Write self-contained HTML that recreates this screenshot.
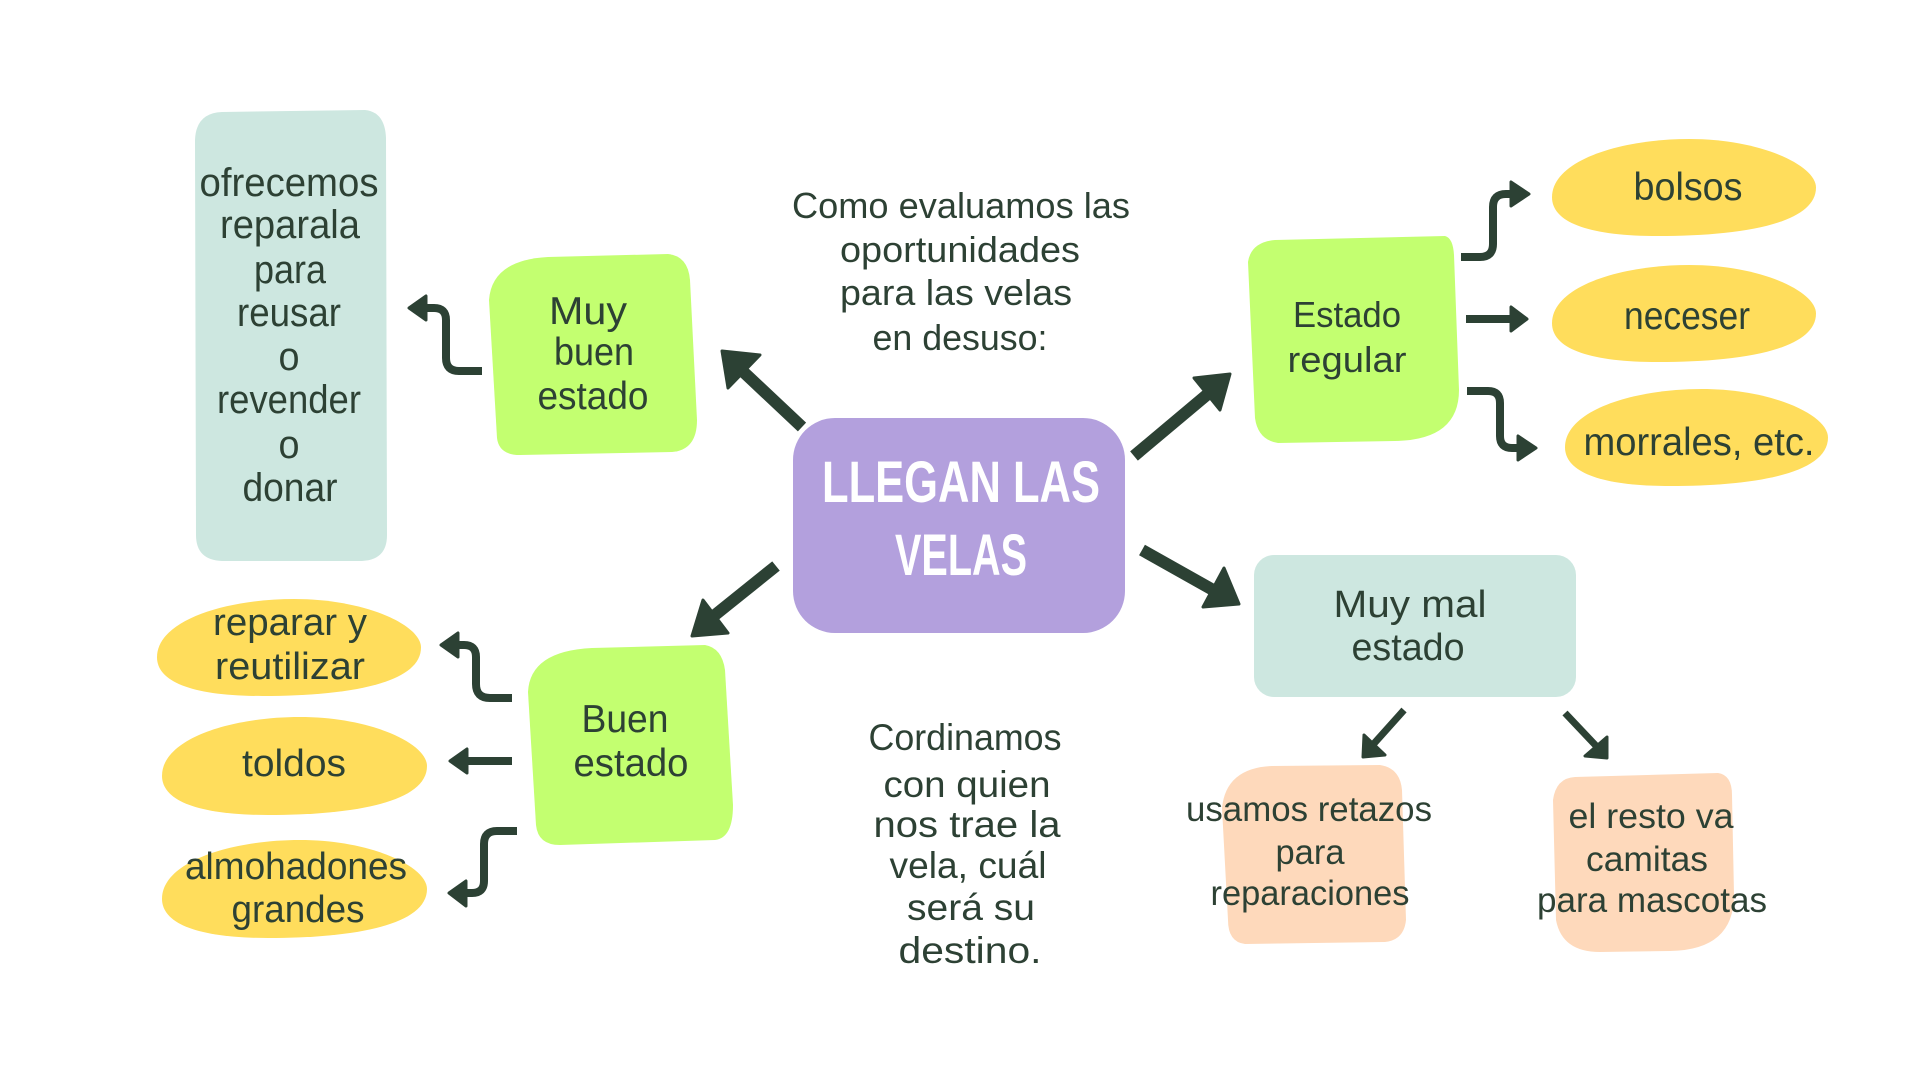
<!DOCTYPE html>
<html>
<head>
<meta charset="utf-8">
<style>
html,body{margin:0;padding:0;background:#ffffff;}
body{width:1920px;height:1080px;overflow:hidden;}
svg{display:block;}
text{font-family:"Liberation Sans",sans-serif;fill:#2d4134;}
</style>
</head>
<body>
<svg width="1920" height="1080" viewBox="0 0 1920 1080" xmlns="http://www.w3.org/2000/svg">
  <rect width="1920" height="1080" fill="#ffffff"/>

  <!-- Left teal tall box -->
  <path d="M195 140 Q196 113 222 112 L365 110 Q385 112 386 138 L387 535 Q387 560 362 561 L222 561 Q196 560 196 535 Z" fill="#cde7e0"/>

  <!-- Muy buen estado green -->
  <path d="M489 300 Q492 260 548 257 L668 254 Q688 256 690 280 L697 420 Q697 450 672 452 L520 455 Q499 455 497 438 Z" fill="#c3ff70"/>

  <!-- Estado regular green -->
  <path d="M1248 262 Q1251 242 1275 240 L1445 236 Q1453 238 1454 255 L1459 390 Q1459 440 1395 441 L1278 443 Q1258 440 1255 418 Z" fill="#c3ff70"/>

  <!-- Buen estado green -->
  <path d="M528 692 Q530 651 592 648 L705 645 Q722 648 725 670 L733 805 Q733 838 715 840 L560 845 Q538 845 536 825 Z" fill="#c3ff70"/>

  <!-- Purple center -->
  <rect x="793" y="418" width="332" height="215" rx="42" ry="42" fill="#b3a0dd"/>

  <!-- Muy mal teal -->
  <rect x="1254" y="555" width="322" height="142" rx="20" ry="20" fill="#cde7e0"/>

  <!-- Peach boxes -->
  <path d="M1222 808 Q1226 768 1272 766 L1380 765 Q1400 768 1402 790 L1406 920 Q1404 940 1385 942 L1245 944 Q1228 942 1228 920 Z" fill="#fed9bb"/>
  <path d="M1553 800 Q1556 778 1575 777 L1718 773 Q1732 775 1732 795 L1734 895 Q1734 950 1670 951 L1600 952 Q1562 952 1556 920 Z" fill="#fed9bb"/>

  <!-- Yellow blobs -->
  <g fill="#ffdd5c">
    <path d="M0,60 C0,22 26,0 52,0 C79,0 100,27 100,50 C100,88 71,100 40,100 C14,100 0,86 0,60Z" transform="translate(1552 139) scale(2.64 0.97)"/>
    <path d="M0,60 C0,22 26,0 52,0 C79,0 100,27 100,50 C100,88 71,100 40,100 C14,100 0,86 0,60Z" transform="translate(1552 265) scale(2.64 0.97)"/>
    <path d="M0,60 C0,22 26,0 52,0 C79,0 100,27 100,50 C100,88 71,100 40,100 C14,100 0,86 0,60Z" transform="translate(1565 389) scale(2.63 0.97)"/>
    <path d="M0,60 C0,22 26,0 52,0 C79,0 100,27 100,50 C100,88 71,100 40,100 C14,100 0,86 0,60Z" transform="translate(157 599) scale(2.64 0.97)"/>
    <path d="M0,60 C0,22 26,0 52,0 C79,0 100,27 100,50 C100,88 71,100 40,100 C14,100 0,86 0,60Z" transform="translate(162 717) scale(2.65 0.98)"/>
    <path d="M0,60 C0,22 26,0 52,0 C79,0 100,27 100,50 C100,88 71,100 40,100 C14,100 0,86 0,60Z" transform="translate(162 840) scale(2.65 0.98)"/>
  </g>

  <!-- Arrows -->
  <g stroke="#2c4134" fill="none" stroke-linecap="butt">
    <!-- main arrows -->
    <line x1="802" y1="427" x2="735" y2="364" stroke-width="12"/>
    <line x1="1134" y1="456" x2="1215" y2="388" stroke-width="12"/>
    <line x1="776" y1="566" x2="705" y2="623" stroke-width="12"/>
    <line x1="1142" y1="550" x2="1222" y2="595" stroke-width="12"/>
    <!-- muy mal small arrows -->
    <line x1="1404" y1="710" x2="1370" y2="748" stroke-width="7"/>
    <line x1="1565" y1="713" x2="1600" y2="750" stroke-width="7"/>
    <!-- elbows -->
    <path d="M1461 257 L1480 257 Q1493 257 1493 244 L1493 207 Q1493 194 1506 194 L1515 194" stroke-width="8"/>
    <path d="M1466 319 L1515 319" stroke-width="8"/>
    <path d="M1467 391 L1488 391 Q1500 391 1500 403 L1500 436 Q1500 448 1512 448 L1522 448" stroke-width="8"/>
    <path d="M482 371 L459 371 Q446 371 446 358 L446 320 Q446 308 434 308 L424 308" stroke-width="8"/>
    <path d="M512 698 L490 698 Q476 698 476 684 L476 657 Q476 645 464 645 L456 645" stroke-width="8"/>
    <path d="M512 761 L464 761" stroke-width="8"/>
    <path d="M517 831 L497 831 Q484 831 484 844 L484 881 Q484 893 472 893 L464 893" stroke-width="8"/>
  </g>
  <g fill="#2c4134" stroke="#2c4134" stroke-width="3" stroke-linejoin="round">
    <polygon points="722,351 760,355 728,388"/>
    <polygon points="1230,374 1194,378 1220,410"/>
    <polygon points="692,636 703,600 728,633"/>
    <polygon points="1239,604 1224,568 1203,607"/>
    <polygon points="1363,757 1364,735 1385,755"/>
    <polygon points="1607,758 1607,737 1585,756"/>
    <polygon points="1529,194 1511,182 1511,206"/>
    <polygon points="1527,319 1511,307 1511,331"/>
    <polygon points="1536,448 1518,436 1518,460"/>
    <polygon points="409,308 426,296 426,320"/>
    <polygon points="441,645 458,633 458,657"/>
    <polygon points="450,761 467,749 467,773"/>
    <polygon points="449,893 466,881 466,906"/>
  </g>

  <!-- Left teal text -->
  <g font-size="40" text-anchor="middle">
    <text x="289" y="196" textLength="179" lengthAdjust="spacingAndGlyphs">ofrecemos</text>
    <text x="290" y="238" textLength="140" lengthAdjust="spacingAndGlyphs">reparala</text>
    <text x="290" y="283" textLength="72" lengthAdjust="spacingAndGlyphs">para</text>
    <text x="289" y="326" textLength="104" lengthAdjust="spacingAndGlyphs">reusar</text>
    <text x="289" y="370" textLength="21" lengthAdjust="spacingAndGlyphs">o</text>
    <text x="289" y="413" textLength="144" lengthAdjust="spacingAndGlyphs">revender</text>
    <text x="289" y="458" textLength="21" lengthAdjust="spacingAndGlyphs">o</text>
    <text x="290" y="501" textLength="95" lengthAdjust="spacingAndGlyphs">donar</text>
  </g>

  <!-- Muy buen estado -->
  <g font-size="39" text-anchor="middle">
    <text x="588" y="324" textLength="78" lengthAdjust="spacingAndGlyphs">Muy</text>
    <text x="594" y="365" textLength="80" lengthAdjust="spacingAndGlyphs">buen</text>
    <text x="593" y="409" textLength="111" lengthAdjust="spacingAndGlyphs">estado</text>
  </g>

  <!-- Como evaluamos -->
  <g font-size="36" text-anchor="middle">
    <text x="961" y="218" textLength="338" lengthAdjust="spacingAndGlyphs">Como evaluamos las</text>
    <text x="960" y="262" textLength="240" lengthAdjust="spacingAndGlyphs">oportunidades</text>
    <text x="956" y="305" textLength="232" lengthAdjust="spacingAndGlyphs">para las velas</text>
    <text x="960" y="350" textLength="175" lengthAdjust="spacingAndGlyphs">en desuso:</text>
  </g>

  <!-- Center title -->
  <g font-size="58" text-anchor="middle" font-weight="bold">
    <text x="961" y="502" textLength="278" lengthAdjust="spacingAndGlyphs" style="fill:#ffffff">LLEGAN LAS</text>
    <text x="961" y="575" textLength="132" lengthAdjust="spacingAndGlyphs" style="fill:#ffffff">VELAS</text>
  </g>

  <!-- Estado regular -->
  <g font-size="36" text-anchor="middle">
    <text x="1347" y="327" textLength="108" lengthAdjust="spacingAndGlyphs">Estado</text>
    <text x="1347" y="372" textLength="119" lengthAdjust="spacingAndGlyphs">regular</text>
  </g>

  <!-- Right yellow texts -->
  <g font-size="39" text-anchor="middle">
    <text x="1688" y="200" textLength="109" lengthAdjust="spacingAndGlyphs">bolsos</text>
    <text x="1687" y="329" textLength="126" lengthAdjust="spacingAndGlyphs">neceser</text>
    <text x="1699" y="455" textLength="231" lengthAdjust="spacingAndGlyphs">morrales, etc.</text>
  </g>

  <!-- Left yellow texts -->
  <g font-size="38" text-anchor="middle">
    <text x="290" y="635" textLength="154" lengthAdjust="spacingAndGlyphs">reparar y</text>
    <text x="290" y="679" textLength="150" lengthAdjust="spacingAndGlyphs">reutilizar</text>
    <text x="294" y="776" textLength="104" lengthAdjust="spacingAndGlyphs">toldos</text>
    <text x="296" y="879" textLength="222" lengthAdjust="spacingAndGlyphs">almohadones</text>
    <text x="298" y="922" textLength="133" lengthAdjust="spacingAndGlyphs">grandes</text>
  </g>

  <!-- Buen estado -->
  <g font-size="39" text-anchor="middle">
    <text x="625" y="732" textLength="87" lengthAdjust="spacingAndGlyphs">Buen</text>
    <text x="631" y="776" textLength="115" lengthAdjust="spacingAndGlyphs">estado</text>
  </g>

  <!-- Cordinamos -->
  <g font-size="37" text-anchor="middle">
    <text x="965" y="750" textLength="193" lengthAdjust="spacingAndGlyphs">Cordinamos</text>
    <text x="967" y="797" textLength="167" lengthAdjust="spacingAndGlyphs">con quien</text>
    <text x="967" y="837" textLength="187" lengthAdjust="spacingAndGlyphs">nos trae la</text>
    <text x="968" y="878" textLength="157" lengthAdjust="spacingAndGlyphs">vela, cuál</text>
    <text x="971" y="920" textLength="128" lengthAdjust="spacingAndGlyphs">será su</text>
    <text x="970" y="963" textLength="143" lengthAdjust="spacingAndGlyphs">destino.</text>
  </g>

  <!-- Muy mal estado -->
  <g font-size="38" text-anchor="middle">
    <text x="1410" y="617" textLength="153" lengthAdjust="spacingAndGlyphs">Muy mal</text>
    <text x="1408" y="660" textLength="113" lengthAdjust="spacingAndGlyphs">estado</text>
  </g>

  <!-- Peach texts -->
  <g font-size="35" text-anchor="middle">
    <text x="1309" y="821" textLength="246" lengthAdjust="spacingAndGlyphs">usamos retazos</text>
    <text x="1310" y="864" textLength="69" lengthAdjust="spacingAndGlyphs">para</text>
    <text x="1310" y="905" textLength="199" lengthAdjust="spacingAndGlyphs">reparaciones</text>
    <text x="1651" y="828" textLength="165" lengthAdjust="spacingAndGlyphs">el resto va</text>
    <text x="1647" y="871" textLength="122" lengthAdjust="spacingAndGlyphs">camitas</text>
    <text x="1652" y="912" textLength="230" lengthAdjust="spacingAndGlyphs">para mascotas</text>
  </g>
</svg>
</body>
</html>
